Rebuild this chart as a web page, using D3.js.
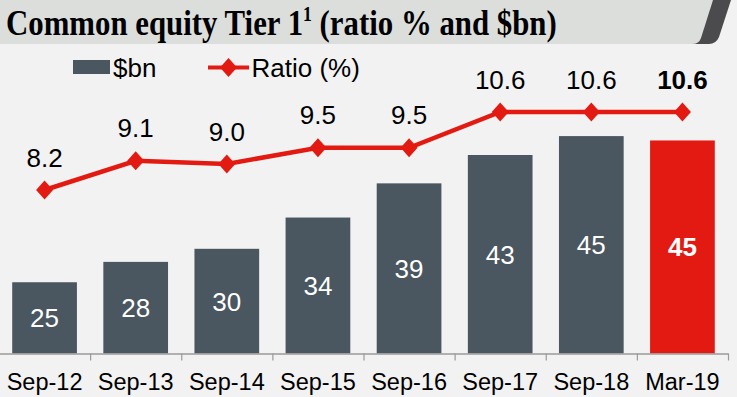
<!DOCTYPE html>
<html>
<head>
<meta charset="utf-8">
<script src="https://cdn.jsdelivr.net/npm/d3@7"></script>
<style>
  html, body { margin: 0; padding: 0; background: #f2f2f2; }
  svg { display: block; }
  text { font-family: "Liberation Sans", Arial, sans-serif; }
</style>
</head>
<body>
<svg width="737" height="397"></svg>
<script>

// chart data
var categories = ["Sep-12", "Sep-13", "Sep-14", "Sep-15", "Sep-16", "Sep-17", "Sep-18", "Mar-19"];
var capitalBn = [25.1, 27.9, 29.7, 34.0, 38.7, 42.6, 45.2, 44.6];
var ratioPct = [8.2, 9.1, 9.0, 9.5, 9.5, 10.6, 10.6, 10.6];
var titleMain = "Common equity Tier 1";
var titleSup = "1";
var titleRest = " (ratio % and $bn)";
var legendLabels = ["$bn", "Ratio (%)"];

var grey = "#4a5660",
    red = "#e31a12";

var svg = d3.select("svg"),
    width = +svg.attr("width"),
    height = +svg.attr("height");

svg.append("rect")
    .attr("width", width)
    .attr("height", height)
    .attr("fill", "#f2f2f2");

// title banner
svg.append("path")
    .attr("d", "M697,0 L731,0 L719,37 Q716,44 709,44 L690,44 Z")
    .attr("fill", "#4b4b4d");
svg.append("path")
    .attr("d", "M0,0 L713,0 L701,38 Q699,44 692,44 L0,44 Z")
    .attr("fill", "#dcdedb");

var title = svg.append("text")
    .attr("x", 0)
    .attr("y", 0)
    .style("font-family", "'Liberation Serif', 'Times New Roman', serif")
    .style("font-weight", "bold")
    .style("font-size", "35px")
    .attr("fill", "#000");
title.append("tspan").text(titleMain);
title.append("tspan").text(titleSup).attr("dy", -14).style("font-size", "20px");
title.append("tspan").text(titleRest).attr("dy", 14);
var tw = title.node().getComputedTextLength();
title.attr("transform", "translate(6,35) scale(" + (551 / tw) + ",1)");

// scales
var x = d3.scaleBand()
    .domain(categories)
    .range([-1, 728])
    .paddingInner(0.29)
    .paddingOuter(0.145);

var xEdge = d3.scaleLinear()
    .domain([0, categories.length])
    .range([-1, 728]);

var baseY = 353.5;

var yBar = d3.scaleLinear()
    .domain([15.3, 45.2])
    .range([baseY, 136.1]);

var yRatio = d3.scaleLinear()
    .domain([8.2, 10.6])
    .range([190, 112]);

// bars
svg.append("g")
    .attr("class", "bars")
  .selectAll("rect")
  .data(capitalBn)
  .enter().append("rect")
    .attr("x", function(d, i) { return x(categories[i]); })
    .attr("y", function(d) { return yBar(d); })
    .attr("width", x.bandwidth())
    .attr("height", function(d) { return baseY - yBar(d); })
    .attr("fill", function(d, i) { return i === categories.length - 1 ? red : grey; });

svg.append("g")
    .attr("class", "bar-labels")
  .selectAll("text")
  .data(capitalBn)
  .enter().append("text")
    .attr("x", function(d, i) { return x(categories[i]) + x.bandwidth() / 2; })
    .attr("y", function(d) { return (yBar(d) + baseY) / 2 + 9.5; })
    .attr("text-anchor", "middle")
    .attr("fill", "#fff")
    .style("font-size", "26px")
    .style("font-weight", function(d, i) { return i === categories.length - 1 ? "bold" : "normal"; })
    .text(function(d) { return Math.round(d); });

// x axis: tick marks between categories, labels under each bar
var edgeAxis = d3.axisBottom(xEdge)
    .tickValues(d3.range(1, categories.length + 1))
    .tickFormat("")
    .tickSize(7)
    .tickSizeOuter(0);

var ax = svg.append("g")
    .attr("transform", "translate(0," + baseY + ")")
    .call(edgeAxis);
ax.select(".domain").attr("stroke", "#9a9a9a").attr("stroke-width", 1.5);
ax.selectAll(".tick line").attr("stroke", "#9a9a9a").attr("stroke-width", 1.2);

var labelAxis = d3.axisBottom(x).tickSize(0).tickSizeOuter(0);
var lx = svg.append("g")
    .attr("transform", "translate(0," + baseY + ")")
    .call(labelAxis);
lx.select(".domain").remove();
lx.selectAll("text")
    .attr("y", 36.5)
    .attr("dy", null)
    .attr("fill", "#000")
    .style("font-family", "'Liberation Sans', Arial, sans-serif")
    .style("font-size", "23.5px");

// ratio line
var cx = function(d, i) { return x(categories[i]) + x.bandwidth() / 2; };

var line = d3.line()
    .x(cx)
    .y(function(d) { return yRatio(d); });

svg.append("path")
    .datum(ratioPct)
    .attr("fill", "none")
    .attr("stroke", red)
    .attr("stroke-width", 4.5)
    .attr("d", line);

var diamond = {
  draw: function(context, size) {
    var w = 8.5, h = 9.5;
    context.moveTo(0, -h);
    context.lineTo(w, 0);
    context.lineTo(0, h);
    context.lineTo(-w, 0);
    context.closePath();
  }
};

svg.append("g")
  .selectAll("path")
  .data(ratioPct)
  .enter().append("path")
    .attr("d", d3.symbol().type(diamond))
    .attr("transform", function(d, i) { return "translate(" + cx(d, i) + "," + yRatio(d) + ")"; })
    .attr("fill", red);

svg.append("g")
  .selectAll("text")
  .data(ratioPct)
  .enter().append("text")
    .attr("x", cx)
    .attr("y", function(d) { return yRatio(d) - 23.5; })
    .attr("text-anchor", "middle")
    .attr("fill", "#000")
    .style("font-size", "26px")
    .style("font-weight", function(d, i) { return i === categories.length - 1 ? "bold" : "normal"; })
    .text(function(d) { return d3.format(".1f")(d); });

// legend
var legend = svg.append("g").attr("class", "legend");
legend.append("rect")
    .attr("x", 73).attr("y", 60)
    .attr("width", 37).attr("height", 14)
    .attr("fill", grey);
legend.append("text")
    .attr("x", 113).attr("y", 76.5)
    .style("font-size", "26px")
    .text(legendLabels[0]);
legend.append("line")
    .attr("x1", 208).attr("x2", 249)
    .attr("y1", 67.5).attr("y2", 67.5)
    .attr("stroke", red)
    .attr("stroke-width", 4);
legend.append("path")
    .attr("d", d3.symbol().type(diamond))
    .attr("transform", "translate(228.5,67.5)")
    .attr("fill", red);
legend.append("text")
    .attr("x", 251.5).attr("y", 76.5)
    .style("font-size", "26px")
    .text(legendLabels[1]);

</script>
</body>
</html>
